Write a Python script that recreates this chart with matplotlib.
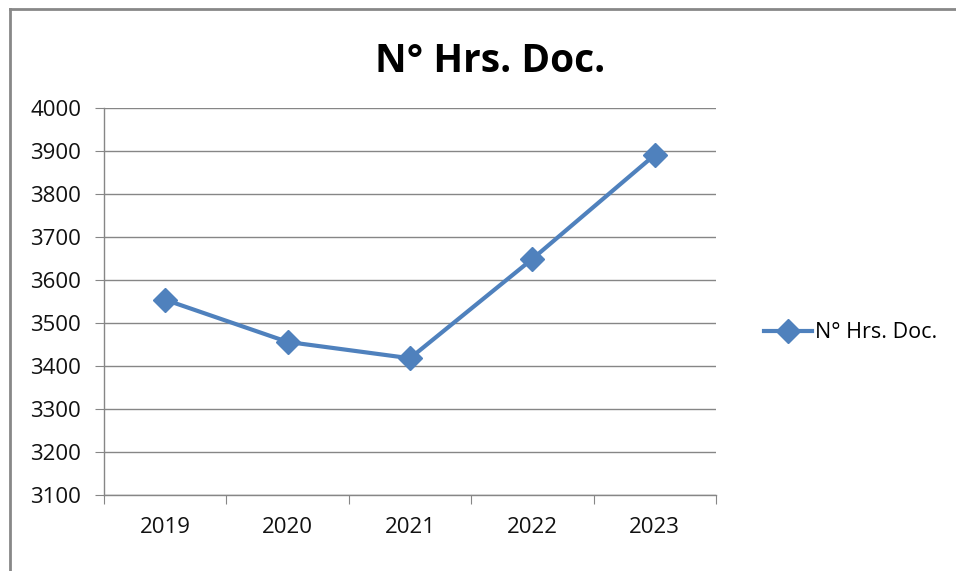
import matplotlib
matplotlib.use("Agg")
import matplotlib.pyplot as plt
from matplotlib.lines import Line2D

years = ["2019", "2020", "2021", "2022", "2023"]
hours = [3554, 3456, 3418, 3649, 3891]
series_name = "N° Hrs. Doc."
title = "N° Hrs. Doc."
yticks = [3100, 3200, 3300, 3400, 3500, 3600, 3700, 3800, 3900, 4000]

plt.rcParams['font.family'] = ['Open Sans', 'DejaVu Sans']
color = "#4F81BD"
gcol = "#868686"

fig = plt.figure(figsize=(9.56, 5.71), dpi=100)
# outer chart frame (left and top edges visible)
fig.add_artist(Line2D([10/956, 10/956], [0, 1 - 9/571], transform=fig.transFigure, color="#888888", lw=2))
fig.add_artist(Line2D([10/956, 1], [1 - 9/571, 1 - 9/571], transform=fig.transFigure, color="#888888", lw=2))

ax = fig.add_axes([104/956, 1 - 495/571, (716 - 104)/956, (495 - 108)/571])
x = list(range(len(years)))
ax.plot(x, hours, color=color, lw=3, marker="D", markersize=12, label=series_name)
ax.set_xlim(-0.5, len(years) - 0.5)
ax.set_ylim(3100, 4000)
ax.set_yticks(yticks)
ax.set_yticklabels([str(v) for v in yticks], fontsize=16, color="#111111")
ax.set_xticks([i - 0.5 for i in range(len(years) + 1)], minor=False)
ax.set_xticklabels([""] * (len(years) + 1))
ax.set_xticks(x, minor=True)
ax.set_xticklabels(years, minor=True, fontsize=16, color="#111111")
ax.tick_params(axis="x", which="major", length=6.5, color=gcol, direction="out")
ax.tick_params(axis="x", which="minor", length=0, pad=16)
ax.tick_params(axis="y", length=6.5, color=gcol, pad=10)
ax.grid(axis="y", color=gcol, lw=1)
ax.set_axisbelow(True)
for s in ["top", "right"]:
    ax.spines[s].set_visible(False)
for s in ["left", "bottom"]:
    ax.spines[s].set_color(gcol)
    ax.spines[s].set_linewidth(1)

fig.text(490/956, 1 - 62/571, title, ha="center", va="center", fontsize=28, fontweight="bold", color="#000000")

leg = ax.legend(loc="center left", bbox_to_anchor=(745/956, 1 - 333/571), bbox_transform=fig.transFigure,
                frameon=False, fontsize=15.5, handlelength=2.2, handletextpad=0.15)

fig.savefig("out.png", dpi=100, facecolor="white")
